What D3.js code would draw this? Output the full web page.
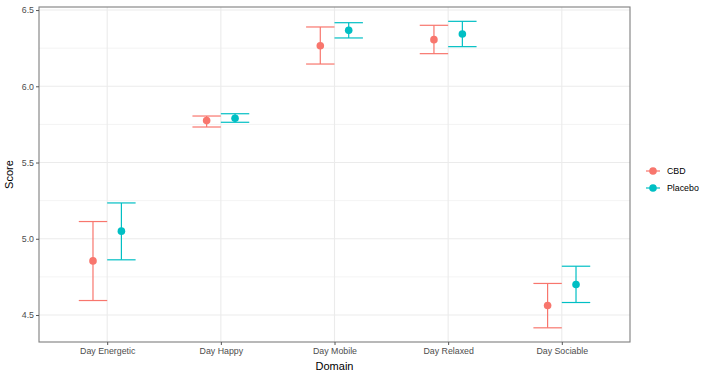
<!DOCTYPE html>
<html>
<head>
<meta charset="utf-8">
<script src="https://cdn.jsdelivr.net/npm/d3@7"></script>
<style>
  body { margin: 0; background: #fff; }
  text { font-family: "Liberation Sans", Arial, sans-serif; }
</style>
</head>
<body>
<div id="chart"></div>
<script>
const domains = ['Day Energetic', 'Day Happy', 'Day Mobile', 'Day Relaxed', 'Day Sociable'];
const groups = ['CBD', 'Placebo'];
const colors = ['#F8766D', '#00BFC4'];

const cbdMean = [4.855, 5.775, 6.266, 6.306, 4.562];
const cbdLow = [4.595, 5.733, 6.146, 6.214, 4.416];
const cbdHigh = [5.113, 5.805, 6.389, 6.400, 4.707];

const placeboMean = [5.05, 5.79, 6.367, 6.343, 4.70];
const placeboLow = [4.862, 5.764, 6.317, 6.26, 4.582];
const placeboHigh = [5.235, 5.82, 6.417, 6.426, 4.82];

const yTicks = [4.5, 5.0, 5.5, 6.0, 6.5];
const yMinor = [4.75, 5.25, 5.75, 6.25];

const width = 708;
const height = 376;
const panel = { left: 39, right: 630, top: 7, bottom: 342 };

const rows = [];
domains.forEach((d, i) => {
  rows.push({ domain: d, group: 'CBD', mean: cbdMean[i], low: cbdLow[i], high: cbdHigh[i] });
  rows.push({ domain: d, group: 'Placebo', mean: placeboMean[i], low: placeboLow[i], high: placeboHigh[i] });
});

const svg = d3.select('#chart').append('svg').attr('width', width).attr('height', height);

// discrete x with ggplot-like 0.6 expansion
const x = d3.scaleLinear().domain([0.4, domains.length + 0.6]).range([panel.left, panel.right]);
const y = d3.scaleLinear().domain([4.323, 6.52]).range([panel.bottom, panel.top]);
const dodge = 0.125;
const xPos = (d) => x(domains.indexOf(d.domain) + 1 + (d.group === 'CBD' ? -dodge : dodge));
const color = d3.scaleOrdinal().domain(groups).range(colors);

const grid = svg.append('g');
grid.selectAll('.minor').data(yMinor).join('line')
  .attr('x1', panel.left).attr('x2', panel.right)
  .attr('y1', (d) => y(d)).attr('y2', (d) => y(d))
  .attr('stroke', '#ebebeb').attr('stroke-width', 0.6);
grid.selectAll('.major').data(yTicks).join('line')
  .attr('x1', panel.left).attr('x2', panel.right)
  .attr('y1', (d) => y(d)).attr('y2', (d) => y(d))
  .attr('stroke', '#ebebeb').attr('stroke-width', 1.1);
grid.selectAll('.vmajor').data(domains).join('line')
  .attr('x1', (d, i) => x(i + 1)).attr('x2', (d, i) => x(i + 1))
  .attr('y1', panel.top).attr('y2', panel.bottom)
  .attr('stroke', '#ebebeb').attr('stroke-width', 1.1);

// error bars
const bars = svg.append('g').selectAll('g').data(rows).join('g')
  .attr('stroke', (d) => color(d.group)).attr('stroke-width', 1.2);
bars.append('line')
  .attr('x1', xPos).attr('x2', xPos)
  .attr('y1', (d) => y(d.low)).attr('y2', (d) => y(d.high));
bars.append('line')
  .attr('x1', (d) => xPos(d) - x(dodge) + x(0)).attr('x2', (d) => xPos(d) + x(dodge) - x(0))
  .attr('y1', (d) => y(d.low)).attr('y2', (d) => y(d.low));
bars.append('line')
  .attr('x1', (d) => xPos(d) - x(dodge) + x(0)).attr('x2', (d) => xPos(d) + x(dodge) - x(0))
  .attr('y1', (d) => y(d.high)).attr('y2', (d) => y(d.high));

svg.append('g').selectAll('circle').data(rows).join('circle')
  .attr('cx', xPos).attr('cy', (d) => y(d.mean)).attr('r', 3.8)
  .attr('fill', (d) => color(d.group));

// panel border
svg.append('rect')
  .attr('x', panel.left).attr('y', panel.top)
  .attr('width', panel.right - panel.left).attr('height', panel.bottom - panel.top)
  .attr('fill', 'none').attr('stroke', '#7f7f7f').attr('stroke-width', 1.1);

// axes
const yAxis = svg.append('g').attr('transform', `translate(${panel.left},0)`)
  .call(d3.axisLeft(y).tickValues(yTicks).tickFormat(d3.format('.1f')).tickSize(3).tickPadding(2));
const xAxis = svg.append('g').attr('transform', `translate(0,${panel.bottom})`)
  .call(d3.axisBottom(x).tickValues(domains.map((d, i) => i + 1))
    .tickFormat((d) => domains[d - 1]).tickSize(3).tickPadding(3));
[yAxis, xAxis].forEach((a) => {
  a.select('.domain').remove();
  a.selectAll('line').attr('stroke', '#555');
  a.selectAll('text').attr('fill', '#4d4d4d').style('font-size', '8.8px');
});

svg.append('text')
  .attr('x', (panel.left + panel.right) / 2).attr('y', 370)
  .attr('text-anchor', 'middle').style('font-size', '11px').attr('fill', '#000')
  .text('Domain');
svg.append('text')
  .attr('transform', `translate(13,${(panel.top + panel.bottom) / 2}) rotate(-90)`)
  .attr('text-anchor', 'middle').style('font-size', '11px').attr('fill', '#000')
  .text('Score');

// legend
const legend = svg.append('g').selectAll('g').data(groups).join('g')
  .attr('transform', (d, i) => `translate(653,${171 + i * 17})`);
legend.append('line').attr('x1', -7).attr('x2', 7)
  .attr('stroke', (d) => color(d)).attr('stroke-width', 1.2);
legend.append('circle').attr('r', 3.8).attr('fill', (d) => color(d));
legend.append('text').attr('x', 14).attr('dy', '0.35em')
  .style('font-size', '8.8px').attr('fill', '#000').text((d) => d);
</script>
</body>
</html>
